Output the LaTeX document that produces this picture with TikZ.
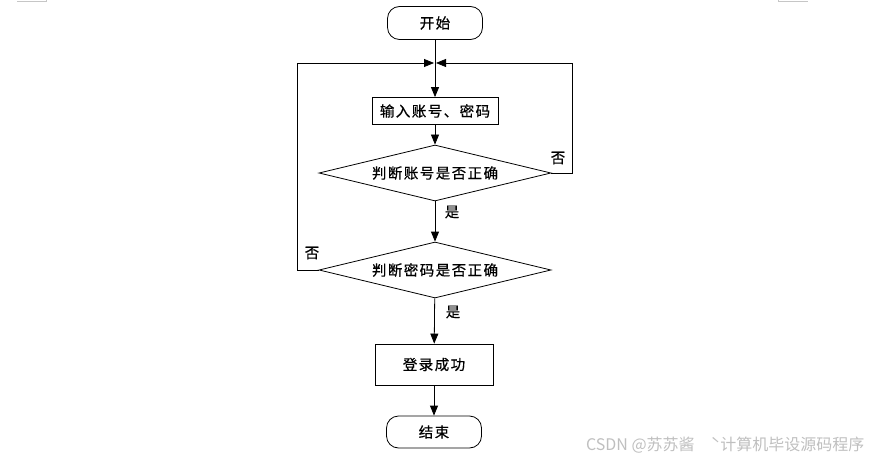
\documentclass[tikz,border=0pt]{standalone}
\usepackage{fontspec}
\setmainfont{Noto Sans CJK SC}
\newfontfamily\flowfont[LetterSpace=10, FakeBold=0.6]{Noto Sans CJK SC}
\usetikzlibrary{shapes.geometric,arrows.meta}

\begin{document}
\begin{tikzpicture}[x = 1pt, y = -1pt, line width = 0.8pt,
  every node/.style = {font = \flowfont\fontsize{14.5}{16}\selectfont},
  term/.style = {draw, rounded corners = 12pt, minimum width = 95pt, minimum height = 33pt},
  proc/.style = {draw, minimum width = 126pt, minimum height = 27pt, inner sep = 0pt},
  cond/.style = {draw, diamond, aspect = 4.2, minimum width = 232pt, minimum height = 56pt, inner sep = 0pt},
  flow/.style = {-{Triangle[length = 10pt, width = 8pt]}}]
\useasboundingbox (0, 0) rectangle (874, 457);

% corner marks
\draw[gray!45, line width = 1pt] (17, 1.5) -- (46, 1.5) -- (46, 0);
\draw[gray!45, line width = 1pt] (778, 0) -- (778, 1.5) -- (808, 1.5);

\node[term] (start) at (435, 23) {开始};
\node[proc] (input) at (435, 111) {输入账号、密码};
\node[cond] (chkuser) at (435, 173) {判断账号是否正确};
\node[cond] (chkpwd) at (435, 270) {判断密码是否正确};
\node[proc, minimum width = 118pt, minimum height = 41pt] (ok) at (434, 364.5) {登录成功};
\node[term, minimum height = 32pt] (stop) at (434, 432) {结束};

\coordinate (merge) at (435, 63);

\draw[flow] (start) -- (input);
\draw[flow] (input) -- (chkuser);
\draw[flow] (chkuser) -- (chkpwd);
\draw[flow] (chkpwd) -- (ok);
\draw[flow] (ok) -- (stop);
\node (yes1) at (452, 212) {是};
\node (yes2) at (453, 312) {是};

\draw[flow] (chkuser.east) -- ++(21, 0) |- ([xshift = 1pt]merge);
\draw[flow] (chkpwd.west) -- ++(-21, 0) |- ([xshift = -1pt]merge);
\node (no1) at (558, 158) {否};
\node (no2) at (312, 253) {否};

\node[text = gray!50, anchor = east, font = \fontsize{16}{18}\selectfont] (mark) at (868, 445) {CSDN @苏苏酱\quad ˋ计算机毕设源码程序};

\end{tikzpicture}
\end{document}
